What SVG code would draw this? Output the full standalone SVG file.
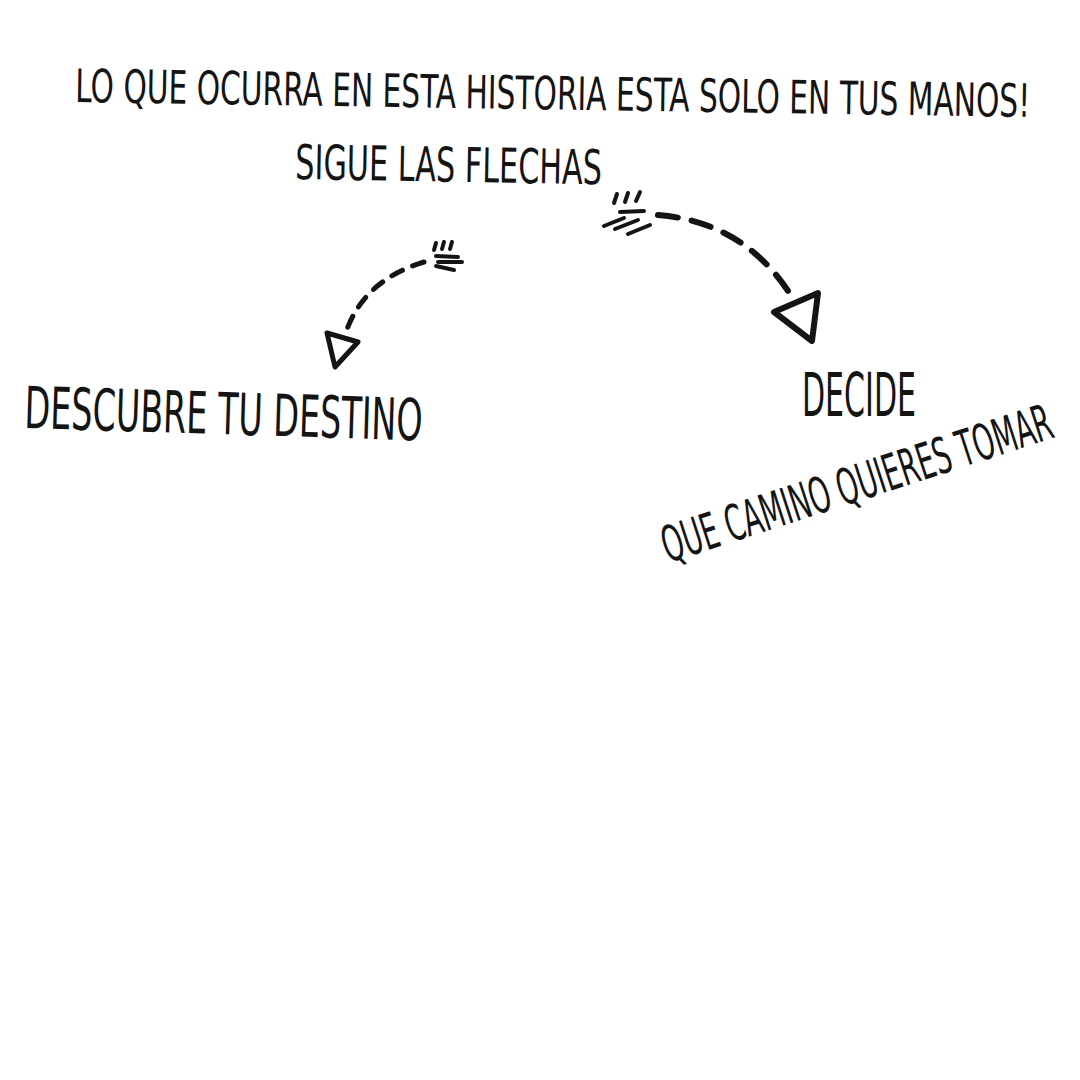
<svg xmlns="http://www.w3.org/2000/svg" width="1080" height="1080" viewBox="0 0 1080 1080">
<style>
.t{font-family:"DejaVu Sans","Liberation Sans",sans-serif;font-stretch:condensed;fill:#141414;}
.dash{fill:none;stroke:#141414;stroke-linecap:round;}
.head{fill:none;stroke:#141414;stroke-linejoin:round;}
.fe{stroke:#141414;stroke-linecap:round;stroke-width:4;}
</style>
<rect width="1080" height="1080" fill="#ffffff"/>
<g id="title">
<text class="t" x="0" y="0" font-size="46" textLength="1345" lengthAdjust="spacingAndGlyphs" transform="translate(75 102) rotate(0.9) scale(0.71 1)">LO QUE OCURRA EN ESTA HISTORIA ESTA SOLO EN TUS MANOS!</text>
</g>
<g id="sigue">
<text class="t" x="0" y="0" font-size="48" textLength="409" lengthAdjust="spacingAndGlyphs" transform="translate(295 179) rotate(1) scale(0.75 1)">SIGUE LAS FLECHAS</text>
</g>
<g id="descubre">
<text class="t" x="0" y="0" font-size="58" textLength="531" lengthAdjust="spacingAndGlyphs" transform="translate(24 428) rotate(1.8) scale(0.75 1)">DESCUBRE TU DESTINO</text>
</g>
<g id="decide">
<text class="t" x="0" y="0" font-size="60" textLength="152" lengthAdjust="spacingAndGlyphs" transform="translate(802 416) scale(0.75 1)">DECIDE</text>
</g>
<g id="camino">
<text class="t" x="0" y="0" font-size="50" textLength="680" lengthAdjust="spacingAndGlyphs" transform="translate(668 563) rotate(-18) scale(0.6 1)">QUE CAMINO QUIERES TOMAR</text>
</g>
<g id="connectors">
<g id="arrow-right">
<path class="dash" d="M658,215 Q745,222 792,297" stroke-width="6" stroke-dasharray="20 14"/>
<polygon class="head" stroke-width="6" points="774,312 818,293 812,341"/>
<line class="fe" x1="614" y1="203" x2="617" y2="194"/>
<line class="fe" x1="625" y1="202" x2="628" y2="193"/>
<line class="fe" x1="636" y1="201" x2="640" y2="192"/>
<line class="fe" x1="620" y1="212" x2="644" y2="211"/>
<line class="fe" x1="604" y1="226" x2="624" y2="218"/>
<line class="fe" x1="615" y1="229" x2="638" y2="220"/>
<line class="fe" x1="628" y1="234" x2="650" y2="225"/>
</g>
<g id="arrow-left">
<path class="dash" d="M424,262 Q364,280 346,332" stroke-width="5" stroke-dasharray="12 11"/>
<polygon class="head" stroke-width="5" points="327,333 358,342 335,367"/>
<line class="fe" x1="434" y1="250" x2="436" y2="243" stroke-width="3"/>
<line class="fe" x1="442" y1="249" x2="444" y2="242" stroke-width="3"/>
<line class="fe" x1="450" y1="249" x2="452" y2="242" stroke-width="3"/>
<line class="fe" x1="436" y1="256" x2="458" y2="257" stroke-width="3"/>
<line class="fe" x1="438" y1="262" x2="462" y2="262" stroke-width="3"/>
<line class="fe" x1="436" y1="266" x2="454" y2="270" stroke-width="3"/>
</g>
</g>
</svg>
